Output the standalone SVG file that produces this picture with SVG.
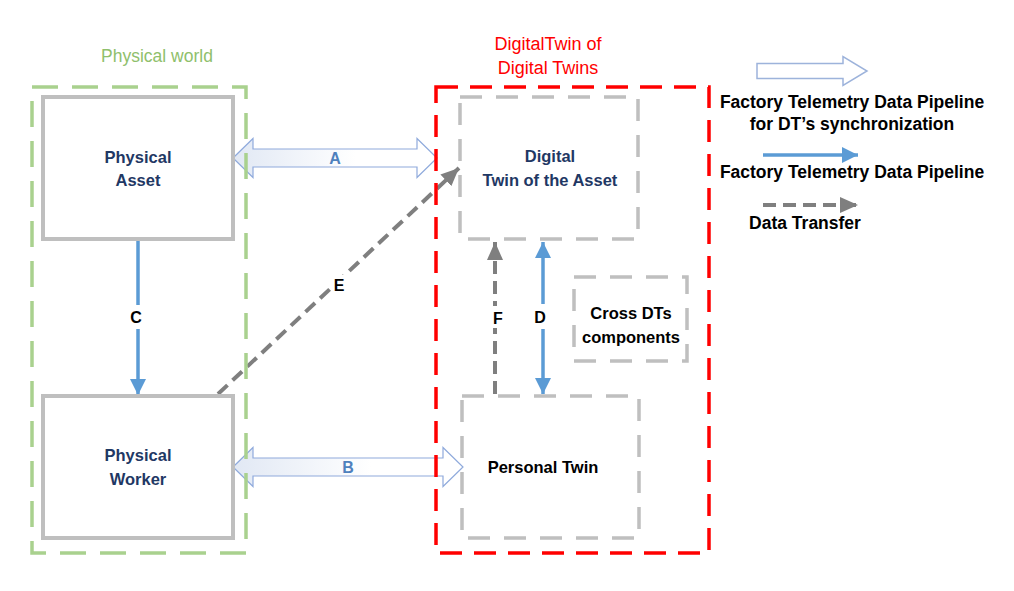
<svg xmlns="http://www.w3.org/2000/svg" width="1014" height="591" viewBox="0 0 1014 591">
<defs>
<style>
.box{fill:#fff;stroke:#BFBFBF;stroke-width:4}
.dbox{fill:none;stroke:#BFBFBF;stroke-width:3.5;stroke-dasharray:22 14}
.t{font-family:"Liberation Sans",Arial,sans-serif;font-weight:bold;text-anchor:middle}
.navy{fill:#1F3864;font-size:16.5px}
.blk{fill:#000;font-size:16.5px}
.lbl{font-family:"Liberation Sans",Arial,sans-serif;font-weight:bold;font-size:16px;text-anchor:middle}
.leg{font-family:"Liberation Sans",Arial,sans-serif;font-weight:bold;font-size:17.5px;text-anchor:middle;fill:#000}
.blue{fill:none;stroke:#5B9BD5;stroke-width:3.5}
.grey{fill:none;stroke:#7F7F7F;stroke-width:4;stroke-dasharray:13 7}
.block{stroke:#8FAADC;stroke-width:1.2;stroke-linejoin:miter}
</style>
<linearGradient id="gr" x1="0" y1="0" x2="1" y2="0">
<stop offset="0" stop-color="#E1E8F4"/>
<stop offset="0.6" stop-color="#FFFFFF"/>
<stop offset="1" stop-color="#FFFFFF"/>
</linearGradient>
<marker id="bh" markerUnits="userSpaceOnUse" markerWidth="18" markerHeight="18" refX="16" refY="8" orient="auto-start-reverse" viewBox="0 0 18 16">
<path d="M0,0 L16,8 L0,16 Z" fill="#5B9BD5"/>
</marker>
<marker id="gh" markerUnits="userSpaceOnUse" markerWidth="20" markerHeight="18" refX="18" refY="8" orient="auto" viewBox="0 0 20 16">
<path d="M0,0 L18,8 L0,16 Z" fill="#7F7F7F"/>
</marker>
</defs>
<rect width="1014" height="591" fill="#fff"/>

<g id="connectors">
<g id="A">
<polygon class="block" fill="url(#gr)" points="233,158 253,138.5 253,149 417,149 417,138.5 437,158 417,177.5 417,167 253,167 253,177.5"/>
<text class="lbl" x="335" y="164" fill="#4F81BD">A</text>
</g>
<g id="B">
<polygon class="block" fill="url(#gr)" points="233,467 253,447.5 253,458 443,458 443,447.5 463,467 443,486.5 443,476 253,476 253,486.5"/>
<text class="lbl" x="348" y="473" fill="#4F81BD">B</text>
</g>
<g id="C">
<line class="blue" x1="138" y1="239" x2="138" y2="395" marker-end="url(#bh)"/>
<rect x="128" y="305" width="20" height="24" fill="#fff"/>
<text class="lbl" x="136" y="323" fill="#000">C</text>
</g>
<g id="D">
<line class="blue" x1="543" y1="242" x2="543" y2="394" marker-start="url(#bh)" marker-end="url(#bh)"/>
<rect x="531" y="304" width="22" height="25" fill="#fff"/>
<text class="lbl" x="540" y="323" fill="#000">D</text>
</g>
<g id="E">
<line class="grey" x1="218" y1="394" x2="459" y2="168" marker-end="url(#gh)"/>
<rect x="331" y="275" width="15" height="20" fill="#fff"/>
<text class="lbl" x="339" y="291" fill="#000">E</text>
</g>
<g id="F">
<line class="grey" x1="495" y1="394" x2="495" y2="242" marker-end="url(#gh)"/>
<rect x="490" y="306" width="14" height="22" fill="#fff"/>
<text class="lbl" x="498" y="324" fill="#000">F</text>
</g>
</g>

<g id="physical-world">
<rect x="32" y="87" width="214" height="466" fill="none" stroke="#A9D18E" stroke-width="3.5" stroke-dasharray="26 14"/>
<text x="157" y="62" font-family="'Liberation Sans',Arial,sans-serif" font-size="17.5" text-anchor="middle" fill="#8FC06C">Physical world</text>
</g>

<g id="dt-of-dts">
<rect x="436" y="87" width="273" height="466" fill="none" stroke="#FF0000" stroke-width="3.5" stroke-dasharray="22 12"/>
<text x="548" y="50" font-family="'Liberation Sans',Arial,sans-serif" font-size="18" text-anchor="middle" fill="#FF0000">DigitalTwin of</text>
<text x="548" y="74" font-family="'Liberation Sans',Arial,sans-serif" font-size="18" text-anchor="middle" fill="#FF0000">Digital Twins</text>
</g>

<g id="physical-asset">
<rect class="box" x="43" y="97" width="190" height="142"/>
<text class="t navy" x="138" y="163">Physical</text>
<text class="t navy" x="138" y="186">Asset</text>
</g>

<g id="physical-worker">
<rect class="box" x="43" y="396" width="190" height="142"/>
<text class="t navy" x="138" y="461">Physical</text>
<text class="t navy" x="138" y="485">Worker</text>
</g>

<g id="digital-twin-asset">
<rect class="dbox" x="460" y="97" width="178" height="142"/>
<text class="t navy" x="550" y="162">Digital</text>
<text class="t navy" x="550" y="186">Twin of the Asset</text>
</g>

<g id="personal-twin">
<rect class="dbox" x="462" y="396" width="177" height="142"/>
<text class="t blk" x="543" y="473">Personal Twin</text>
</g>

<g id="cross-dts">
<rect class="dbox" x="574" y="277" width="113" height="84"/>
<text class="t blk" x="631" y="319">Cross DTs</text>
<text class="t blk" x="631" y="343">components</text>
</g>

<g id="legend">
<polygon fill="#fff" stroke="#9DB3DB" stroke-width="1.5" points="757,63.5 843,63.5 843,56.5 867,71 843,85.5 843,78.5 757,78.5"/>
<text class="leg" x="852" y="108">Factory Telemetry Data Pipeline</text>
<text class="leg" x="852" y="130">for DT’s synchronization</text>
<line class="blue" stroke-width="4" x1="763" y1="155" x2="858" y2="155" marker-end="url(#bh)"/>
<text class="leg" x="852" y="178">Factory Telemetry Data Pipeline</text>
<line class="grey" stroke-dasharray="9 7" x1="763" y1="205" x2="858" y2="205" marker-end="url(#gh)"/>
<text class="leg" x="805" y="229">Data Transfer</text>
</g>
</svg>
